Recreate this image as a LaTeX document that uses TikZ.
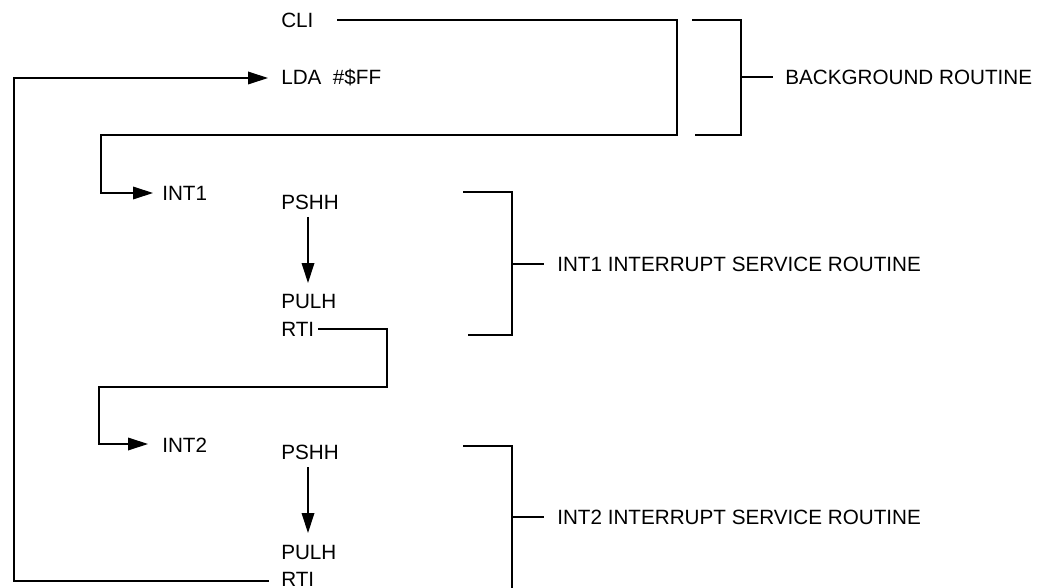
\documentclass[tikz,border=0pt]{standalone}
\usepackage{fontspec}
\setmainfont{Liberation Sans}
\usetikzlibrary{arrows.meta}
\begin{document}
\begin{tikzpicture}[x=0.75pt,y=-0.75pt,
  txt/.style={anchor=base west,inner sep=0pt,font=\fontsize{15.5}{18}\selectfont},
  wire/.style={line width=0.9pt,line join=miter},
  arr/.style={wire,-{Triangle[length=15pt,width=9.5pt]}}]
\useasboundingbox (0,0) rectangle (1053,588);
% texts
\node[txt] (cli)   at (281,27.3)  {CLI};
\node[txt] (lda)   at (281,84.3)  {LDA \ \#\$FF};
\node[txt] (int1)  at (162,200.3) {INT1};
\node[txt] (pshh1) at (281,209.3) {PSHH};
\node[txt] (pulh1) at (281,308.3) {PULH};
\node[txt] (rti1)  at (281,336.3) {RTI};
\node[txt] (int2)  at (162,452.3) {INT2};
\node[txt] (pshh2) at (281,459.3) {PSHH};
\node[txt] (pulh2) at (281,559.3) {PULH};
\node[txt] (rti2)  at (281,586.6) {RTI};
\node[txt] (bgr)   at (785,84.3)  {BACKGROUND ROUTINE};
\node[txt] (isr1)  at (557,271.3) {INT1 INTERRUPT SERVICE ROUTINE};
\node[txt] (isr2)  at (557,524.3) {INT2 INTERRUPT SERVICE ROUTINE};
% connector end points
\coordinate (cliE)  at (337,20);
\coordinate (int1W) at (153,193);
\coordinate (rti1E) at (318,329);
\coordinate (int2W) at (148,444);
\coordinate (rti2W) at (269,581);
\coordinate (ldaW)  at (268,78);
\coordinate (p1S) at (308,217);
\coordinate (u1N) at (308,283);
\coordinate (p2S) at (308,467);
\coordinate (u2N) at (308,533);
% flow connectors
\draw[arr] (cliE) -- (677,20) -- (677,135) -- (101,135) -- (101,193) -- (int1W);
\draw[arr] (rti1E) -- (387,329) -- (387,387) -- (99,387) -- (99,444) -- (int2W);
\draw[arr] (rti2W) -- (14,581) -- (14,78) -- (ldaW);
\draw[arr] (p1S) -- (u1N);
\draw[arr] (p2S) -- (u2N);
% brackets
\draw[wire] (692,20) -- (741,20) -- (741,135) -- (695,135);
\draw[wire] (741,77) -- (773,77);
\draw[wire] (463,192) -- (512,192) -- (512,335) -- (468,335);
\draw[wire] (512,264) -- (544,264);
\draw[wire] (463,446) -- (512,446) -- (512,592);
\draw[wire] (512,517) -- (544,517);
\end{tikzpicture}
\end{document}
